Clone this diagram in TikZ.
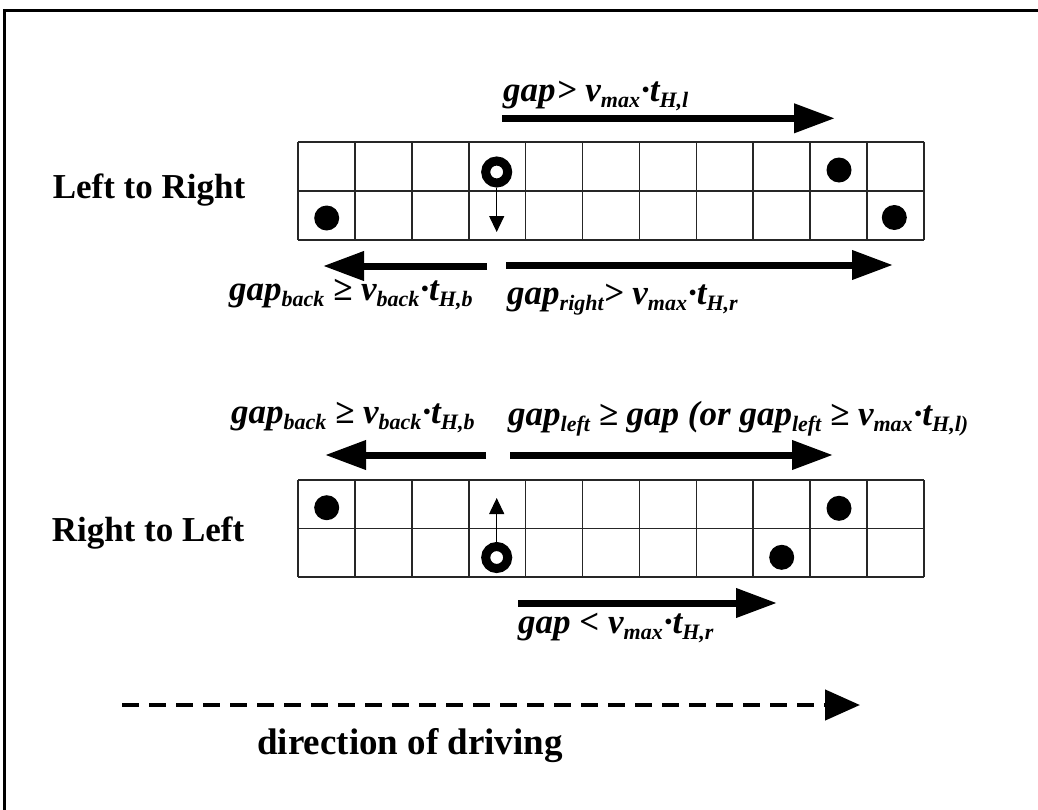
\documentclass[tikz,border=0pt]{standalone}
\usepackage{fontspec}
\setmainfont{Liberation Serif}
\usetikzlibrary{arrows.meta}
\newcommand\sbs[1]{\raisebox{-0.4ex}{\fontsize{22}{24}\selectfont #1}}
\tikzset{
  lbl/.style={inner sep=0pt, font=\fontsize{35}{40}\selectfont\bfseries\itshape, anchor=base west},
  side/.style={inner sep=0pt, font=\fontsize{35}{40}\selectfont\bfseries},
  grid line/.style={line width=1.6pt, draw=black!85},
  fat/.style={line width=7pt, -{Triangle[length=41pt,width=28pt]}},
  thin/.style={line width=1.2pt, -{Triangle[length=16pt,width=15pt]}},
  dot/.style={circle, fill=black, minimum size=25pt, inner sep=0pt},
  ring/.style={circle, draw=black, line width=9pt, minimum size=22pt, inner sep=0pt, fill=white},
}
\begin{document}
\begin{tikzpicture}[x=1pt,y=-1pt]
\useasboundingbox (0,0) rectangle (1038,809);
\draw[line width=3pt] (4.5,10) rectangle (1045,820);

% top grid
\foreach \i in {0,...,11} \draw[grid line] (298+\i*56.9,141.7) -- (298+\i*56.9,240);
\foreach \j in {141.7,190.7,240} \draw[grid line] (298,\j) -- (924,\j);
% bottom grid
\foreach \i in {0,...,11} \draw[grid line] (298+\i*56.9,480) -- (298+\i*56.9,577);
\foreach \j in {480,528.3,577} \draw[grid line] (298,\j) -- (924,\j);

\node[side] (lr) at (149,190) {Left to Right};
\node[side] (rl) at (148,533) {Right to Left};

% top vehicles
\node[dot] (a1) at (326.7,218) {};
\node[dot] (a2) at (839,170) {};
\node[dot] (a3) at (894.3,217.5) {};
\node[ring] (r1) at (496.7,172) {};
\coordinate (r1t) at (496.7,232);
\draw[thin] (r1.south) -- (r1t);

% bottom vehicles
\node[dot] (b1) at (326.7,507.7) {};
\node[dot] (b2) at (839,508.3) {};
\node[dot] (b3) at (781.7,557.3) {};
\node[ring] (r2) at (496.7,557.5) {};
\coordinate (r2t) at (496.7,498);
\draw[thin] (r2.north) -- (r2t);

% top arrows
\coordinate (t1s) at (502,118.3); \coordinate (t1e) at (835,118.3);
\draw[fat] (t1s) -- (t1e);
\node[lbl] (t1) at (503,101) {gap\kern1pt> v\sbs{max}\kern1pt·t\sbs{H,l}};

\coordinate (t2s) at (487,266); \coordinate (t2e) at (323,266);
\draw[fat] (t2s) -- (t2e);
\node[lbl] (t2) at (229,300) {gap\sbs{back} ≥ v\sbs{back}\kern1pt·t\sbs{H,b}};

\coordinate (t3s) at (506,265); \coordinate (t3e) at (893,265);
\draw[fat] (t3s) -- (t3e);
\node[lbl] (t3) at (507,304) {gap\sbs{right}> v\sbs{max}\kern1pt·t\sbs{H,r}};

% bottom arrows
\coordinate (b4s) at (486,455); \coordinate (b4e) at (325,455);
\draw[fat] (b4s) -- (b4e);
\node[lbl] (t4) at (231,423) {gap\sbs{back} ≥ v\sbs{back}\kern1pt·t\sbs{H,b}};

\coordinate (b5s) at (510,455); \coordinate (b5e) at (833,455);
\draw[fat] (b5s) -- (b5e);
\node[lbl] (t5) at (508,425) {gap\sbs{left} ≥ gap (or gap\sbs{left} ≥ v\sbs{max}\kern1pt·t\sbs{H,l)}};

\coordinate (b6s) at (518,603); \coordinate (b6e) at (777,603);
\draw[fat] (b6s) -- (b6e);
\node[lbl] (t6) at (518,633) {gap < v\sbs{max}\kern1pt·t\sbs{H,r}};

% direction
\coordinate (ds) at (122,705); \coordinate (de) at (860,705);
\draw[line width=4.5pt, dash pattern=on 17pt off 10pt, -{Triangle[length=35pt,width=30pt]}] (ds) -- (de);
\node[side, font=\fontsize{37}{42}\selectfont\bfseries] (dir) at (410,746) {direction of driving};
\end{tikzpicture}
\end{document}
